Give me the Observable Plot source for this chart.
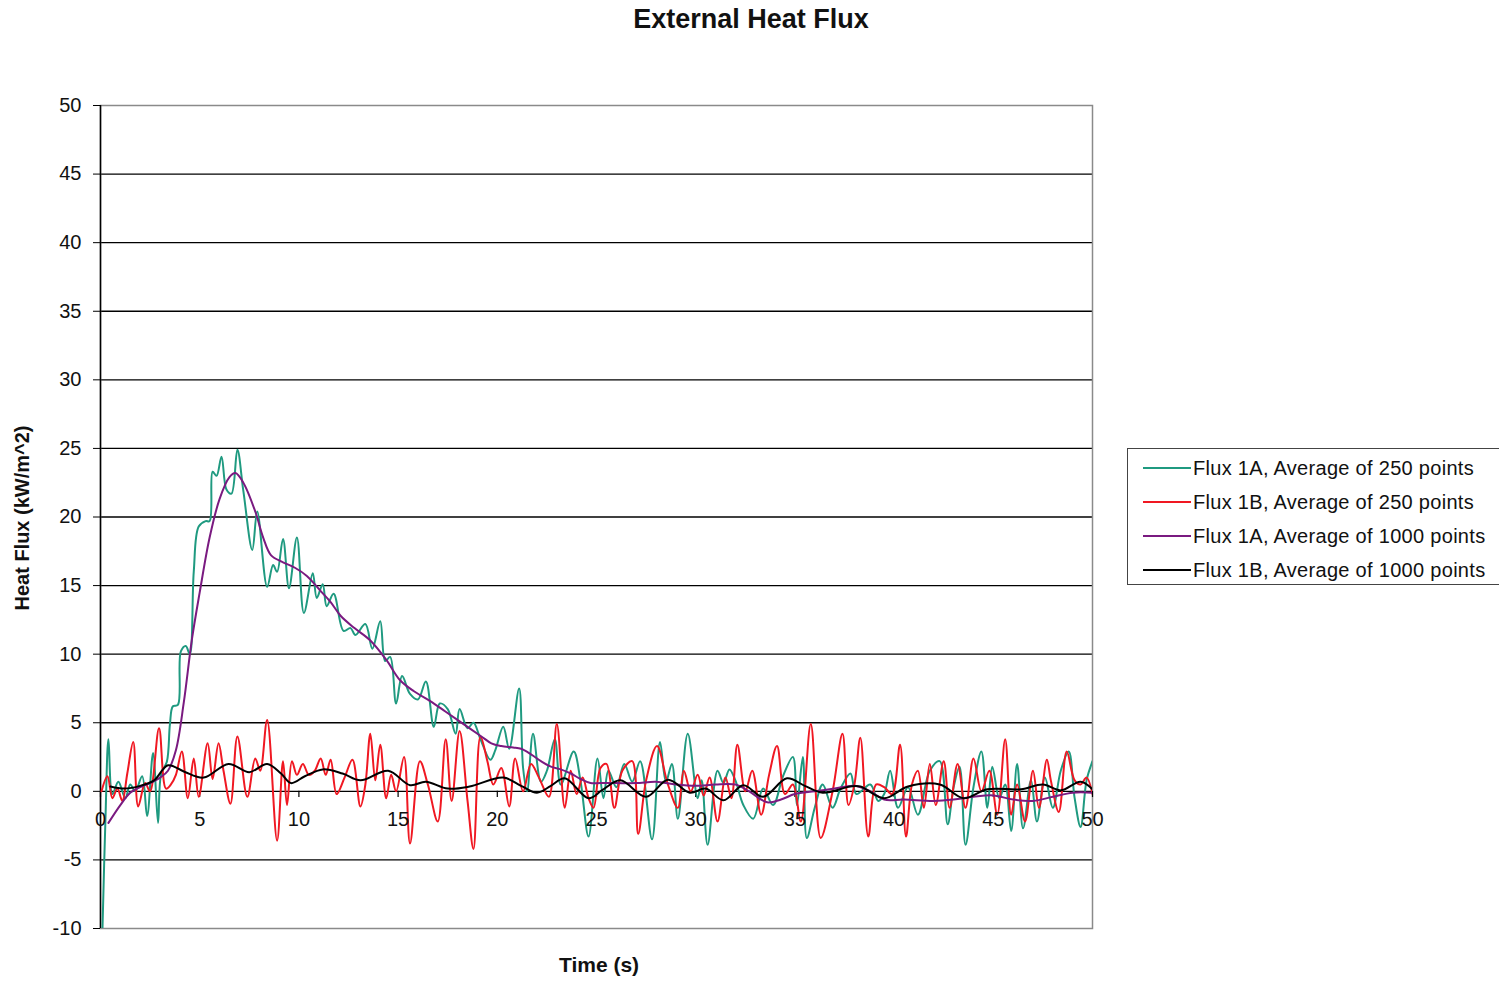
<!DOCTYPE html>
<html><head><meta charset="utf-8">
<script src="https://cdn.jsdelivr.net/npm/d3@7"></script>
<script src="https://cdn.jsdelivr.net/npm/@observablehq/plot@0.6"></script>
<style>
body{margin:0;background:#fff;font-family:"Liberation Sans",Arial,sans-serif;}
#wrap{position:relative;width:1499px;height:983px;overflow:hidden;background:#fff}
#title{position:absolute;left:0;width:1502px;top:4px;text-align:center;font-weight:bold;font-size:27px;color:#111}
#ylab{position:absolute;left:22px;top:518px;transform:translate(-50%,-50%) rotate(-90deg);font-weight:bold;font-size:20px;white-space:nowrap;color:#111}
#xlab{position:absolute;left:599px;top:965px;transform:translate(-50%,-50%);font-weight:bold;font-size:21px;white-space:nowrap;color:#111}
#legend{position:absolute;left:1127px;top:448px;width:380px;height:137px;border:1px solid #444;box-sizing:border-box}
.row{position:absolute;left:15px;height:22px;font-size:20px;letter-spacing:0.3px;color:#111;white-space:nowrap;display:flex;align-items:center}
.sw{width:48px;height:2px;margin-right:2px}
#chart{position:absolute;left:0;top:0}
</style></head><body>
<div id="wrap">
<div id="chart"></div>
<div id="title">External Heat Flux</div>
<div id="ylab">Heat Flux (kW/m^2)</div>
<div id="xlab">Time (s)</div>
<div id="legend"></div>
</div>
<script>
const seriesNames = ["Flux 1A, Average of 250 points","Flux 1B, Average of 250 points","Flux 1A, Average of 1000 points","Flux 1B, Average of 1000 points"];
const seriesColors = ["#1f9a80","#f01822","#7a1a80","#000000"];
const xTicks = [0,5,10,15,20,25,30,35,40,45,50];
const yTicks = [-10,-5,0,5,10,15,20,25,30,35,40,45,50];

const flux1A250 = [[0.1,-10],[0.25,-2],[0.4,3.8],[0.6,-0.2],[0.9,0.7],[1.25,-0.5],[1.5,0.5],[1.75,0],[2.1,1.1],[2.35,-1.8],[2.65,2.8],[2.9,-2.3],[3.05,1.2],[3.35,2.2],[3.5,4.9],[3.65,6.2],[3.9,6.3],[4.05,10.2],[4.3,10.6],[4.5,10],[4.7,16],[4.95,19.3],[5.3,19.7],[5.5,19.7],[5.65,23.3],[5.85,23],[6.1,24.4],[6.35,22],[6.6,21.7],[6.9,24.9],[7.2,21.9],[7.65,17.6],[7.9,20.4],[8.4,14.9],[8.7,16.5],[8.9,16],[9.2,18.4],[9.5,14.8],[9.9,18.5],[10.25,13],[10.7,15.9],[10.9,14.1],[11.2,15.1],[11.4,13.5],[11.75,14.4],[12.25,11.7],[12.6,11.9],[12.85,11.4],[13.35,12.2],[13.7,10.4],[14.1,12.4],[14.35,9.5],[14.6,9.8],[14.9,6.4],[15.2,8.4],[15.6,7.1],[16.0,6.7],[16.4,8.0],[16.8,4.7],[17.1,6.4],[17.5,6.0],[17.9,4.2],[18.1,6.0],[18.5,4.6],[18.8,5],[19.15,3.8],[19.65,2.3],[19.9,3],[20.3,4.7],[20.6,3.1],[21.1,7.5],[21.3,1.7],[21.5,0],[21.8,4.2],[22.2,0.7],[22.5,1.5],[22.9,3.8],[23.2,0.5],[23.85,2.9],[24.2,0.7],[24.6,-3.3],[25.05,2.4],[25.35,-0.5],[25.6,1.5],[26.0,0.3],[26.4,2.0],[26.8,0.7],[27.2,2.2],[27.8,-3.5],[28.2,3.6],[28.5,0.7],[28.8,2.0],[29.1,-2.0],[29.6,4.2],[30.1,-0.5],[30.3,0.8],[30.6,-3.9],[31.1,1.5],[31.4,0.6],[31.7,1.6],[32.0,0.8],[32.4,-1.0],[32.9,-2.0],[33.4,0.2],[33.9,-1.0],[34.4,1.1],[34.9,2.5],[35.1,-1.0],[35.4,2.5],[35.6,-3.4],[36.0,-1.2],[36.4,0.5],[36.9,-1.2],[37.3,0.2],[37.8,1.3],[38.1,-0.2],[38.8,0.5],[39.2,-0.7],[39.5,-0.2],[39.8,1.5],[40.2,-1.2],[40.7,0.3],[41.2,-1.7],[41.8,1.5],[42.3,2.2],[42.7,-2.4],[43.0,0.3],[43.3,1.8],[43.6,-3.9],[44.0,0.3],[44.4,2.9],[44.7,-1.2],[44.95,1.8],[45.3,-0.5],[45.6,0.5],[45.9,-2.9],[46.2,2.0],[46.5,-2.7],[46.9,0.8],[47.2,-2.2],[47.6,1.0],[48.0,-1.2],[48.4,1.5],[48.8,2.9],[49.1,-0.5],[49.4,-2.6],[49.7,0.8],[50,2.2]];

const flux1B250 = [[0.05,0],[0.35,1.1],[0.6,-0.5],[0.85,0.2],[1.1,-0.7],[1.35,1.3],[1.65,3.6],[1.9,-1.1],[2.25,0.6],[2.5,0],[2.95,4.6],[3.3,0.2],[3.55,0.5],[3.8,1.2],[4.1,2.9],[4.4,-0.5],[4.7,2.4],[4.95,-0.4],[5.4,3.5],[5.65,0.9],[5.95,3.5],[6.2,1.5],[6.55,-0.9],[6.9,4.0],[7.4,-0.4],[7.8,2.4],[8.05,1.5],[8.4,5.2],[8.9,-3.6],[9.2,2.2],[9.4,-1.0],[9.65,2.2],[9.9,1.2],[10.2,2.0],[10.5,1.2],[10.8,1.5],[11.1,2.4],[11.35,1.2],[11.6,2.3],[11.9,-0.2],[12.3,1.0],[12.7,2.3],[13.1,-1.1],[13.35,0.5],[13.6,4.2],[13.85,0.8],[14.1,3.4],[14.4,-0.5],[14.65,1.2],[14.9,0],[15.3,2.5],[15.6,-3.8],[16.1,2.2],[16.5,0.5],[17.0,-2.2],[17.4,3.8],[17.7,-0.7],[18.1,4.4],[18.5,-0.7],[18.8,-4.2],[19.15,4.0],[19.5,2.2],[19.8,0.5],[20.2,1.7],[20.6,-1.1],[20.9,2.4],[21.3,0],[21.7,2.0],[22.1,1.0],[22.6,-0.4],[23.0,4.9],[23.4,-1.2],[23.7,1.5],[24.0,-0.2],[24.3,1.0],[24.6,-0.5],[24.85,-1.2],[25.2,1.7],[25.5,2.0],[25.9,-1.2],[26.3,1.5],[26.8,2.2],[27.1,-3.1],[27.5,0.8],[28.05,3.3],[28.6,0.5],[29.1,-1.2],[29.4,1.5],[29.75,0],[30.1,1.2],[30.4,-0.3],[30.7,1.0],[31.1,-2.2],[31.5,1.0],[31.8,-0.5],[32.1,3.4],[32.5,0],[32.85,1.5],[33.3,-1.7],[33.7,1.2],[34.1,3.3],[34.5,-0.2],[34.9,0.5],[35.3,-2.2],[35.8,4.9],[36.3,-3.4],[36.9,0.0],[37.4,4.2],[37.7,-1.0],[38.0,0.5],[38.3,3.9],[38.7,-3.3],[39.1,0.5],[39.5,0.3],[39.9,-0.2],[40.3,3.4],[40.6,-3.3],[40.9,0.5],[41.2,1.5],[41.5,-1.2],[41.8,2.0],[42.1,-1.0],[42.5,2.2],[42.8,-1.2],[43.2,2.0],[43.6,-1.2],[44.0,2.4],[44.4,0],[44.8,1.5],[45.2,-1.7],[45.6,3.8],[45.9,-1.7],[46.2,0.5],[46.6,-2.2],[47.0,1.5],[47.3,-1.2],[47.7,2.3],[47.9,0.8],[48.3,-1.5],[48.7,2.9],[49.1,0.8],[49.4,0.5],[49.7,1.0],[50,-0.2]];

const flux1A1000 = [[0.4,-2.3],[1,-1],[1.5,-0.1],[2,0.3],[2.5,0.6],[3,1.0],[3.4,1.5],[3.8,3],[4.2,6.5],[4.6,11],[5,14.5],[5.5,18.5],[6,21.3],[6.5,22.9],[6.8,23.2],[7.2,22.5],[7.8,20.4],[8.2,18.5],[8.6,17.2],[9.2,16.7],[9.8,16.3],[10.4,15.7],[11.1,14.6],[11.6,13.8],[12.1,12.8],[12.8,11.9],[13.6,11],[14.4,9.6],[15.1,8.1],[15.8,7.3],[16.6,6.6],[17.4,5.8],[18.1,5.1],[18.7,4.5],[19.2,4.0],[19.7,3.5],[20.2,3.3],[20.8,3.2],[21.2,3.1],[21.7,2.7],[22.2,2.2],[22.7,1.8],[23.2,1.6],[23.7,1.3],[24.2,0.9],[24.7,0.6],[25.2,0.6],[26,0.6],[27,0.6],[28,0.7],[29,0.5],[30,0.4],[31,0.5],[32,0.5],[32.7,0],[33.6,-0.8],[34.3,-0.6],[35,-0.2],[36,0],[37,0.2],[38,0.4],[38.8,0],[39.5,-0.6],[40.5,-0.6],[42,-0.7],[43,-0.6],[44,-0.4],[45,-0.3],[46,-0.6],[47,-0.7],[48,-0.4],[49,-0.1],[50,-0.1]];

const flux1B1000 = [[0.5,0.35],[1.2,0.2],[2,0.4],[2.7,0.8],[3.4,1.9],[4.2,1.45],[5.2,1.0],[6.45,2.0],[7.5,1.4],[8.4,2.0],[9.1,1.3],[9.6,0.6],[10.3,1.1],[11.2,1.6],[12.2,1.3],[13.1,0.8],[14.5,1.5],[15.6,0.45],[16.4,0.7],[17.5,0.2],[18.6,0.35],[20.3,1.0],[21.2,0.4],[22.0,-0.1],[22.7,0.4],[23.4,0.95],[24.6,-0.5],[25.3,0.1],[26.2,0.8],[27.5,-0.4],[28.6,0.85],[29.7,-0.1],[30.5,0.2],[31.4,-0.65],[32.4,0.45],[33.4,-0.4],[34.6,0.95],[35.5,0.4],[36.4,-0.1],[37.8,0.35],[38.3,0.35],[39.5,-0.5],[40.7,0.35],[42.3,0.5],[43.5,-0.5],[44.7,0.15],[46.4,0.15],[47.5,0.5],[48.4,0.07],[49.4,0.7],[50,0.15]];

const seriesData = [flux1A250, flux1B250, flux1A1000, flux1B1000];
const rows = seriesData.flatMap((arr, i) => arr.map(([t, v]) => ({t, v, s: seriesNames[i]})));

const lineMarks = seriesNames.map((name, i) =>
  Plot.line(rows.filter(r => r.s === name), {x: "t", y: "v", stroke: seriesColors[i], strokeWidth: 2, curve: "catmull-rom", clip: true})
);

const chart = Plot.plot({
  width: 1499, height: 983,
  marginLeft: 100, marginRight: 407, marginTop: 105, marginBottom: 55,
  x: {domain: [0, 50]},
  y: {domain: [-10, 50]},
  style: {fontFamily: "'Liberation Sans', Arial, sans-serif", fontSize: "20px", color: "#111", background: "#fff"},
  marks: [
    Plot.ruleY(yTicks.filter(d => d > -10 && d < 50), {stroke: "#000", strokeWidth: 1.3}),
    Plot.frame({stroke: "#8a8a8a", strokeWidth: 1.5}),
    Plot.ruleX([0], {stroke: "#000", strokeWidth: 1.5}),
    Plot.axisY({ticks: yTicks, tickSize: 7, tickPadding: 12, tickFormat: d => String(d), label: null, fontSize: 20, stroke: "#000"}),
    Plot.axisX({ticks: [], label: null}),
    Plot.ruleX(xTicks, {x: d => d, y1: 0, y2: -0.45, stroke: "#000", strokeWidth: 1.2}),
    ...lineMarks,
    Plot.text(xTicks, {x: d => d, y: 0, dy: 28, text: d => String(d), fontSize: 20, fill: "#111"})
  ]
});
document.getElementById("chart").appendChild(chart);

const legend = document.getElementById("legend");
seriesNames.forEach((name, i) => {
  const row = document.createElement("div");
  row.className = "row";
  row.style.top = (8 + i * 34) + "px";
  const sw = document.createElement("span");
  sw.className = "sw";
  sw.style.background = seriesColors[i];
  const tx = document.createElement("span");
  tx.textContent = name;
  row.appendChild(sw); row.appendChild(tx);
  legend.appendChild(row);
});
</script>
</body></html>
